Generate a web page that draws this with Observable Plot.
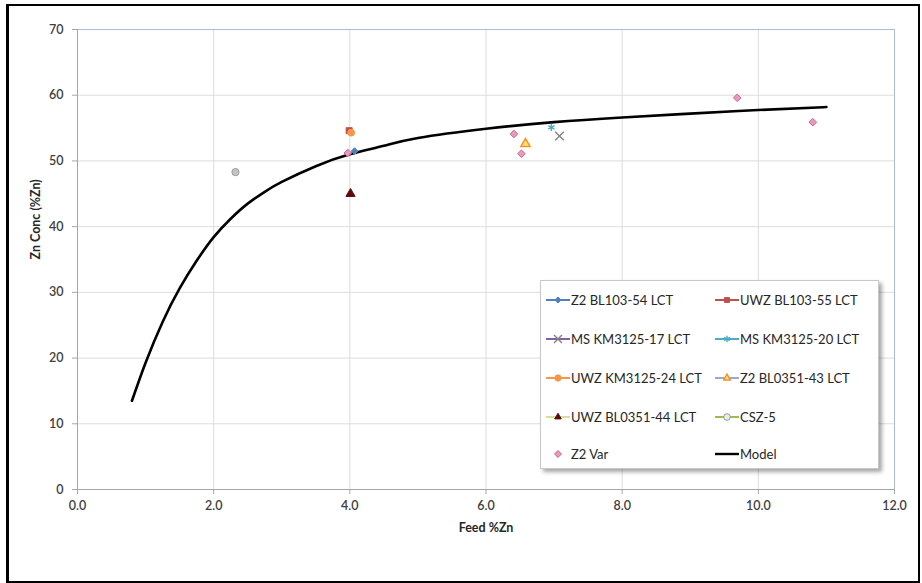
<!DOCTYPE html>
<html>
<head>
<meta charset="utf-8">
<script src="https://cdn.jsdelivr.net/npm/d3@7"></script>
<script src="https://cdn.jsdelivr.net/npm/@observablehq/plot@0.6"></script>
<style>
  html, body { margin: 0; padding: 0; background: #fff; }
  #wrap { position: relative; width: 922px; height: 583px; overflow: hidden; font-family: Lato, "Open Sans", sans-serif; }
  #border { position: absolute; left: 6px; top: 4px; width: 914px; height: 579px; box-sizing: border-box;
            border: 2px solid #000; border-left-width: 3px; pointer-events: none; }
  #chart { position: absolute; left: 0; top: 0; }
  #legend { position: absolute; left: 540px; top: 280px; width: 339px; height: 189px; box-sizing: border-box;
            background: #fff; border: 1px solid #c8c8c8; box-shadow: 3px 3px 4px rgba(0,0,0,0.35); }
  .item { position: absolute; display: flex; align-items: center; font-size: 13px; color: #262626; white-space: nowrap; }
  .item svg { margin-right: 1px; }
</style>
</head>
<body>
<div id="wrap">
  <div id="chart"></div>
  <div id="legend"></div>
  <div id="border"></div>
</div>
<script>
// Series names, in drawing / legend order
const seriesNames = [
  "Z2 BL103-54 LCT", "UWZ BL103-55 LCT",
  "MS KM3125-17 LCT", "MS KM3125-20 LCT",
  "UWZ KM3125-24 LCT", "Z2 BL0351-43 LCT",
  "UWZ BL0351-44 LCT", "CSZ-5",
  "Z2 Var"
];

// Measured points: series, feed grade (%Zn), concentrate grade (%Zn)
const pointSeries = [
  "Z2 BL103-54 LCT", "UWZ BL103-55 LCT", "MS KM3125-17 LCT", "MS KM3125-20 LCT",
  "UWZ KM3125-24 LCT", "Z2 BL0351-43 LCT", "UWZ BL0351-44 LCT", "CSZ-5",
  "Z2 Var", "Z2 Var", "Z2 Var", "Z2 Var", "Z2 Var"
];
const pointFeed = [4.07, 3.99, 7.08, 6.96, 4.02, 6.58, 4.01, 2.32, 3.97, 6.41, 6.52, 9.69, 10.80];
const pointConc = [51.5, 54.6, 53.8, 55.1, 54.3, 52.6, 45.0, 48.3, 51.2, 54.1, 51.1, 59.6, 55.9];

// Grade–grade model curve
const modelFeed = [0.8, 1.0, 1.25, 1.5, 1.75, 2.0, 2.25, 2.5, 2.75, 3.0, 3.5, 4.0, 4.5, 5.0, 6.0, 7.0, 8.0, 9.0, 10.0, 11.0];
const modelConc = [13.5, 19.3, 25.5, 30.6, 34.8, 38.4, 41.2, 43.5, 45.3, 46.8, 49.2, 51.0, 52.3, 53.5, 54.9, 55.9, 56.6, 57.2, 57.75, 58.2];

// Axis ticks
const xTicks = [0, 2, 4, 6, 8, 10, 12];
const yTicks = [0, 10, 20, 30, 40, 50, 60, 70];

// Marker appearance for each series
const markerStyle = {
  "Z2 BL103-54 LCT":   {symbol: "diamond2", fill: "#4f81bd", stroke: "#4f81bd", r: 3.0, line: "#4f81bd"},
  "UWZ BL103-55 LCT":  {symbol: "square",   fill: "#c0504d", stroke: "#c0504d", r: 3.4, line: "#c0504d"},
  "MS KM3125-17 LCT":  {symbol: "times",    fill: "none",    stroke: "#85808c", r: 4.0, line: "#8064a2", sw: 1.4},
  "MS KM3125-20 LCT":  {symbol: "asterisk", fill: "none",    stroke: "#4bacc6", r: 3.4, line: "#4bacc6", sw: 1.4},
  "UWZ KM3125-24 LCT": {symbol: "circle",   fill: "#f79646", stroke: "#f79646", r: 3.4, line: "#f79646"},
  "Z2 BL0351-43 LCT":  {symbol: "triangle", fill: "#ffe08a", stroke: "#f7941d", r: 3.4, line: "#9aa6e0", sw: 1.5},
  "UWZ BL0351-44 LCT": {symbol: "triangle", fill: "#5c0a0a", stroke: "#5c0a0a", r: 3.4, line: "#d4e09a"},
  "CSZ-5":             {symbol: "circle",   fill: "#c4c4c4", stroke: "#9a9a9a", r: 3.6, line: "#9bbb59", legendFill: "#e9eee0"},
  "Z2 Var":            {symbol: "diamond2", fill: "#e79cbc", stroke: "#d0608f", r: 3.4, line: null}
};

const idx = d3.range(pointFeed.length);
const font = "Lato, 'Open Sans', sans-serif";

const dotMarks = seriesNames.map(name => {
  const s = markerStyle[name];
  return Plot.dot(idx.filter(i => pointSeries[i] === name), {
    x: i => pointFeed[i],
    y: i => pointConc[i],
    symbol: s.symbol,
    fill: s.fill,
    stroke: s.stroke,
    strokeWidth: s.sw ?? 1,
    r: s.r
  });
});

const chart = Plot.plot({
  width: 922,
  height: 583,
  marginLeft: 77,
  marginRight: 28,
  marginTop: 29,
  marginBottom: 94,
  style: {fontFamily: font, background: "transparent", overflow: "visible"},
  x: {domain: [0, 12]},
  y: {domain: [0, 70]},
  marks: [
    Plot.gridY(yTicks.filter(v => v > 0 && v < 70), {stroke: "#dcdcdc", strokeOpacity: 1}),
    Plot.gridX(xTicks.filter(v => v > 0 && v < 12), {stroke: "#dcdcdc", strokeOpacity: 1}),
    Plot.ruleY([70], {stroke: "#a9bddb"}),
    Plot.ruleX([12], {stroke: "#a9bddb"}),
    Plot.ruleX([0], {stroke: "#a6a6a6"}),
    Plot.ruleY([0], {stroke: "#a6a6a6"}),
    Plot.axisX({ticks: xTicks, tickFormat: d3.format(".1f"), tickSize: 5, tickPadding: 7,
                stroke: "#a6a6a6", fill: "#404040", fontSize: 12.5, fontWeight: 600, label: null}),
    Plot.axisY({ticks: yTicks, tickFormat: d3.format("d"), tickSize: 5, tickPadding: 9,
                stroke: "#a6a6a6", fill: "#404040", fontSize: 12.5, fontWeight: 600, label: null}),
    Plot.text(["Feed %Zn"], {frameAnchor: "bottom", dy: 42, fontSize: 12.5, fontWeight: "bold", fill: "#262626"}),
    Plot.text(["Zn Conc (%Zn)"], {frameAnchor: "left", dx: -42, rotate: -90, fontSize: 12.5, fontWeight: "bold", fill: "#262626"}),
    Plot.line(d3.range(modelFeed.length), {x: i => modelFeed[i], y: i => modelConc[i],
      curve: "natural", stroke: "#000", strokeWidth: 2.6}),
    ...dotMarks
  ]
});
document.getElementById("chart").appendChild(chart);

// Legend: two columns, five rows
const legend = document.getElementById("legend");
const legendEntries = [...seriesNames, "Model"];
const colX = [5, 174];
const rowY = [19, 58, 97, 136, 173];
const symbolPath = (sym, r) => d3.symbol(
  {diamond2: d3.symbolDiamond2, square: d3.symbolSquare2, times: d3.symbolTimes, asterisk: d3.symbolAsterisk,
   circle: d3.symbolCircle, triangle: d3.symbolTriangle2}[sym], Math.PI * r * r * 0.85)();

legendEntries.forEach((name, k) => {
  const col = k % 2, row = Math.floor(k / 2);
  const el = document.createElement("div");
  el.className = "item";
  el.style.left = colX[col] + "px";
  el.style.top = (rowY[row] - 9) + "px";
  el.style.height = "18px";
  const ns = "http://www.w3.org/2000/svg";
  const sw = document.createElementNS(ns, "svg");
  sw.setAttribute("width", 24);
  sw.setAttribute("height", 18);
  if (name === "Model") {
    const l = document.createElementNS(ns, "line");
    l.setAttribute("x1", 0); l.setAttribute("x2", 24); l.setAttribute("y1", 9); l.setAttribute("y2", 9);
    l.setAttribute("stroke", "#000"); l.setAttribute("stroke-width", 2.4);
    sw.appendChild(l);
  } else {
    const s = markerStyle[name];
    if (s.line) {
      const l = document.createElementNS(ns, "line");
      l.setAttribute("x1", 0); l.setAttribute("x2", 24); l.setAttribute("y1", 9); l.setAttribute("y2", 9);
      l.setAttribute("stroke", s.line); l.setAttribute("stroke-width", 2);
      sw.appendChild(l);
    }
    const p = document.createElementNS(ns, "path");
    p.setAttribute("d", symbolPath(s.symbol, s.r));
    p.setAttribute("transform", "translate(12,9)");
    p.setAttribute("fill", s.legendFill ?? s.fill);
    p.setAttribute("stroke", s.stroke);
    p.setAttribute("stroke-width", s.sw ?? 1);
    sw.appendChild(p);
  }
  el.appendChild(sw);
  const t = document.createElement("span");
  t.textContent = name;
  el.appendChild(t);
  legend.appendChild(el);
});
</script>
</body>
</html>
